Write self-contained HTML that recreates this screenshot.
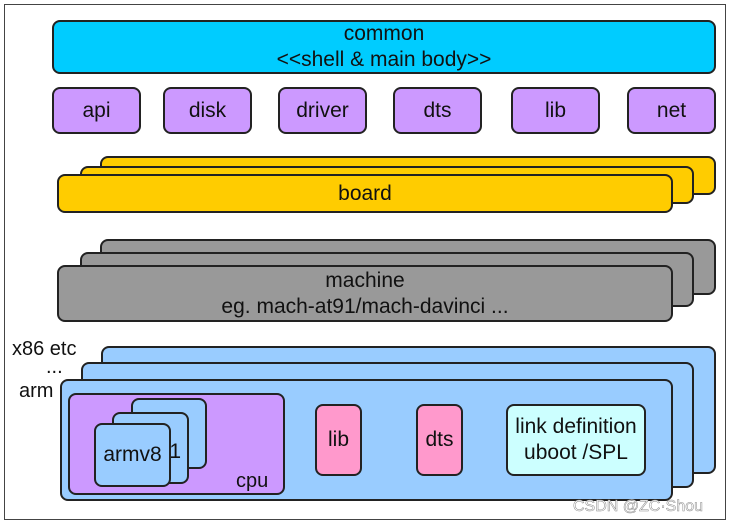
<!DOCTYPE html>
<html><head><style>
body{margin:0;background:#fff;}
.c{position:relative;width:730px;height:525px;font-family:"Liberation Sans",sans-serif;color:#111;}
.b{position:absolute;box-sizing:border-box;border:2px solid #222;border-radius:8px;display:flex;align-items:center;justify-content:center;text-align:center;font-size:21px;line-height:26px;}
.t{position:absolute;font-size:20px;}
</style></head><body><div class="c">
<div style="position:absolute;left:4px;top:4px;width:722px;height:516px;border:1.5px solid #444;box-sizing:border-box"></div>
<div class="b" style="left:52px;top:20px;width:664px;height:54px;background:#00ccff">common<br>&lt;&lt;shell &amp; main body&gt;&gt;</div>
<div class="b" style="left:52px;top:87px;width:89px;height:47px;background:#cc99ff">api</div>
<div class="b" style="left:163px;top:87px;width:89px;height:47px;background:#cc99ff">disk</div>
<div class="b" style="left:278px;top:87px;width:89px;height:47px;background:#cc99ff">driver</div>
<div class="b" style="left:393px;top:87px;width:89px;height:47px;background:#cc99ff">dts</div>
<div class="b" style="left:511px;top:87px;width:89px;height:47px;background:#cc99ff">lib</div>
<div class="b" style="left:627px;top:87px;width:89px;height:47px;background:#cc99ff">net</div>

<div class="b" style="left:100px;top:156px;width:616px;height:39px;background:#ffcc00"></div>
<div class="b" style="left:80px;top:166px;width:614px;height:38px;background:#ffcc00"></div>
<div class="b" style="left:57px;top:174px;width:616px;height:39px;background:#ffcc00">board</div>

<div class="b" style="left:100px;top:239px;width:616px;height:56px;background:#999"></div>
<div class="b" style="left:80px;top:252px;width:614px;height:55px;background:#999"></div>
<div class="b" style="left:57px;top:265px;width:616px;height:57px;background:#999">machine<br>eg. mach-at91/mach-davinci ...</div>

<div class="t" style="left:12px;top:338px">x86 etc</div>
<div class="t" style="left:46px;top:356px">...</div>
<div class="t" style="left:19px;top:380px">arm</div>
<div class="b" style="left:101px;top:346px;width:615px;height:128px;background:#99ccff"></div>
<div class="b" style="left:81px;top:362px;width:613px;height:126px;background:#99ccff"></div>
<div class="b" style="left:60px;top:379px;width:613px;height:122px;background:#99ccff"></div>
<div class="b" style="left:68px;top:393px;width:217px;height:102px;background:#cc99ff"></div>
<div class="t" style="left:236px;top:470px">cpu</div>
<div class="b" style="left:131px;top:398px;width:76px;height:71px;background:#99ccff"></div>
<div class="b" style="left:112px;top:412px;width:77px;height:72px;background:#99ccff;justify-content:flex-end;padding-right:6px;padding-top:8px">1</div>
<div class="b" style="left:94px;top:423px;width:77px;height:64px;background:#99ccff">armv8</div>
<div class="b" style="left:315px;top:404px;width:47px;height:72px;background:#ff99cc">lib</div>
<div class="b" style="left:416px;top:404px;width:47px;height:72px;background:#ff99cc">dts</div>
<div class="b" style="left:506px;top:404px;width:140px;height:72px;background:#ccffff">link definition<br>uboot /SPL</div>
<div class="t" style="left:573px;top:498px;font-size:16px;color:#fff;-webkit-text-stroke:0.5px #888">CSDN @ZC·Shou</div>
</div></body></html>
